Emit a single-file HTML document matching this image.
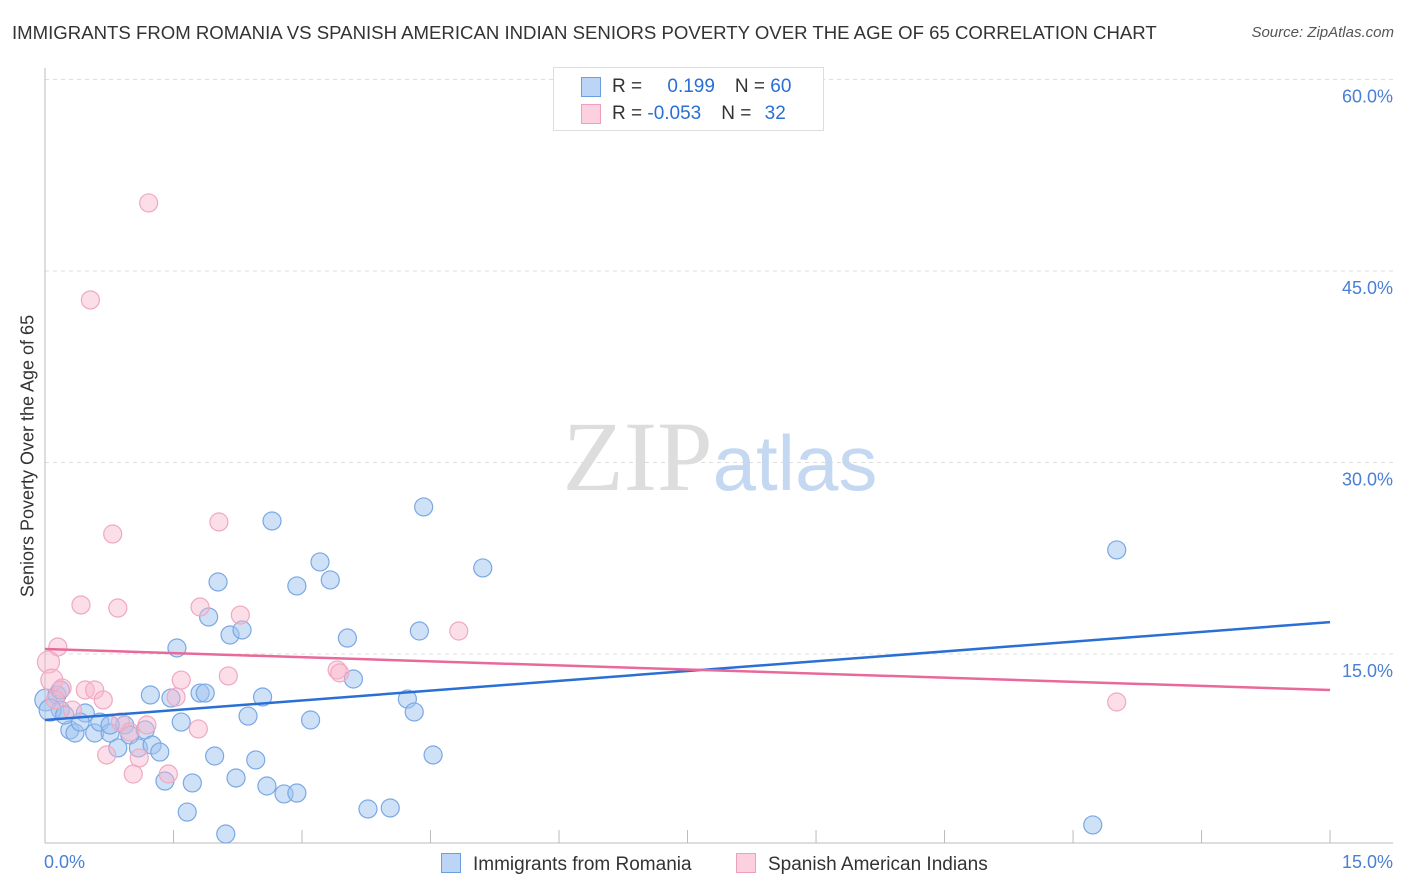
<!DOCTYPE html>
<html><head><meta charset="utf-8"><style>
body{margin:0;background:#fff;font-family:"Liberation Sans",sans-serif}
#w{position:relative;width:1406px;height:892px;overflow:hidden}
.t{position:absolute;white-space:nowrap}
</style></head><body>
<div id="w">
<div class="t" style="left:12px;top:22px;font-size:18.6px;color:#333">IMMIGRANTS FROM ROMANIA VS SPANISH AMERICAN INDIAN SENIORS POVERTY OVER THE AGE OF 65 CORRELATION CHART</div>
<div class="t" style="right:12px;top:24px;font-size:15px;color:#555;font-style:italic">Source: ZipAtlas.com</div>
<svg id="s" width="1406" height="892" style="position:absolute;left:0;top:0"></svg>
</div>
<script>
const xTicks=[0,1.5,3,4.5,6,7.5,9,10.5,12,13.5,15];
const yTicks=[15,30,45,60];
const yTickLabels=["15.0%","30.0%","45.0%","60.0%"];
const blueX=[0.01,0.14,0.18,0.29,0.35,0.47,0.41,0.58,0.64,0.76,0.85,0.93,0.99,1.09,1.17,1.25,1.34,1.23,1.40,1.47,1.54,1.59,1.66,1.72,1.81,1.87,1.91,1.98,2.02,2.11,2.16,2.23,2.30,2.37,2.46,2.54,2.59,2.65,2.79,2.94,2.94,3.10,3.21,3.33,3.53,3.60,3.77,4.03,4.23,4.31,4.37,4.42,4.53,5.11,12.51,12.23,0.18,0.06,0.23,0.76];
const blueY=[11.4,11.79,10.61,9.05,8.81,10.38,9.67,8.81,9.67,8.81,7.64,9.44,8.66,7.64,9.05,7.87,7.32,11.79,5.05,11.55,15.47,9.67,2.62,4.9,11.94,11.94,17.9,7.01,20.64,0.9,16.49,5.29,16.88,10.14,6.7,11.63,4.66,25.42,4.04,4.11,20.33,9.83,22.21,20.8,16.25,13.04,2.86,2.94,11.47,10.46,16.8,26.52,7.09,21.74,23.15,1.61,12.18,10.61,10.22,9.44];
const pinkX=[0.53,1.21,0.79,2.03,0.42,0.85,1.81,2.28,4.83,0.15,0.04,0.08,0.2,0.47,0.58,0.68,0.32,0.88,1.19,0.99,1.59,1.53,2.14,3.41,3.44,1.79,0.72,1.1,1.03,1.44,12.51,0.12];
const pinkY=[42.73,50.33,24.4,25.34,18.84,18.6,18.68,18.05,16.8,15.55,14.37,12.96,12.34,12.18,12.18,11.4,10.61,9.67,9.44,8.89,12.96,11.63,13.28,13.75,13.52,9.13,7.09,6.86,5.6,5.6,11.24,11.4];
const blueTrend=[9.83,17.5];
const pinkTrend=[15.39,12.18];
const X=v=>45+v*85.67, Y=v=>845.5-v*12.767;
const s=document.getElementById('s');const NS='http://www.w3.org/2000/svg';
function el(t,a,p){const e=document.createElementNS(NS,t);for(const k in a)e.setAttribute(k,a[k]);(p||s).appendChild(e);return e;}
yTicks.forEach((v,i)=>{
 const g=el('line',{x1:45,x2:1393,y1:Y(v),y2:Y(v),stroke:'#ddd','stroke-dasharray':'4,4'});
 
 
 const t=el('text',{x:1393,y:Y(v)+23,'text-anchor':'end','font-size':18,fill:'#4a7fd4','font-family':'Liberation Sans'});
 t.textContent=yTickLabels[i];
 
 
});
const ax=el('line',{x1:45,x2:45,y1:68,y2:843,stroke:'#bbb'});


const bx=el('line',{x1:45,x2:1393,y1:843,y2:843,stroke:'#bbb'});


xTicks.forEach(v=>{const l=el('line',{x1:X(v),x2:X(v),y1:830,y2:843,stroke:'#bbb'});
 
 });
const wm=el('text',{x:720,y:490,'text-anchor':'middle','font-size':100});
wm.innerHTML='<tspan fill="#ddd" font-family="Liberation Serif">ZIP</tspan><tspan fill="#c5d8f2" font-family="Liberation Sans" font-size="78">atlas</tspan>';


function dots(xs,ys,f,st,n){xs.forEach((x,i)=>{const c=el('circle',{cx:X(x),cy:Y(ys[i]),r:(x<0.1?11:9),fill:f,stroke:st,'stroke-width':1.2});
 
 });}
dots(blueX,blueY,'rgba(160,196,240,0.5)','#7aa8e4','romania-point');
dots(pinkX,pinkY,'rgba(248,182,204,0.45)','#f0a8c0','spanish-american-indian-point');
const bl=el('line',{x1:X(0),y1:Y(blueTrend[0]),x2:X(15),y2:Y(blueTrend[1]),stroke:'#2a6fd4','stroke-width':2.5});


const pl=el('line',{x1:X(0),y1:Y(pinkTrend[0]),x2:X(15),y2:Y(pinkTrend[1]),stroke:'#e8699a','stroke-width':2.5});


</script>
<div class="t" style="left:44px;top:852px;font-size:18px;color:#4a7fd4">0.0%</div>
<div class="t" style="right:13px;top:852px;font-size:18px;color:#4a7fd4">15.0%</div>
<div class="t" style="left:28px;top:456px;font-size:18px;color:#333;transform:translate(-50%,-50%) rotate(-90deg)">Seniors Poverty Over the Age of 65</div>
<div style="position:absolute;left:553px;top:67px;width:269px;height:62px;border:1px solid #ddd;background:#fff;font-size:19px">
 <div style="position:absolute;left:27px;top:9px;width:18px;height:18px;background:#bcd4f6;border:1px solid #6a9ee0"></div>
 <div class="t" style="left:58px;top:8px;color:#333">R = <span style="color:#2a6fd4;margin-left:20px">0.199</span><span style="margin-left:20px">N = </span><span style="color:#2a6fd4">60</span></div>
 <div style="position:absolute;left:27px;top:36px;width:18px;height:18px;background:#fcd0de;border:1px solid #eea0ba"></div>
 <div class="t" style="left:58px;top:35px;color:#333">R = <span style="color:#2a6fd4">-0.053</span><span style="margin-left:20px">N = </span><span style="color:#2a6fd4;margin-left:8px">32</span></div>
</div>
<div style="position:absolute;left:441px;top:853px;font-size:19px;color:#333"><span style="display:inline-block;width:18px;height:18px;background:#bcd4f6;border:1px solid #6a9ee0;vertical-align:-3px;margin-right:12px"></span>Immigrants from Romania</div>
<div style="position:absolute;left:736px;top:853px;font-size:19px;color:#333"><span style="display:inline-block;width:18px;height:18px;background:#fcd0de;border:1px solid #eea0ba;vertical-align:-3px;margin-right:12px"></span>Spanish American Indians</div>
</body></html>
